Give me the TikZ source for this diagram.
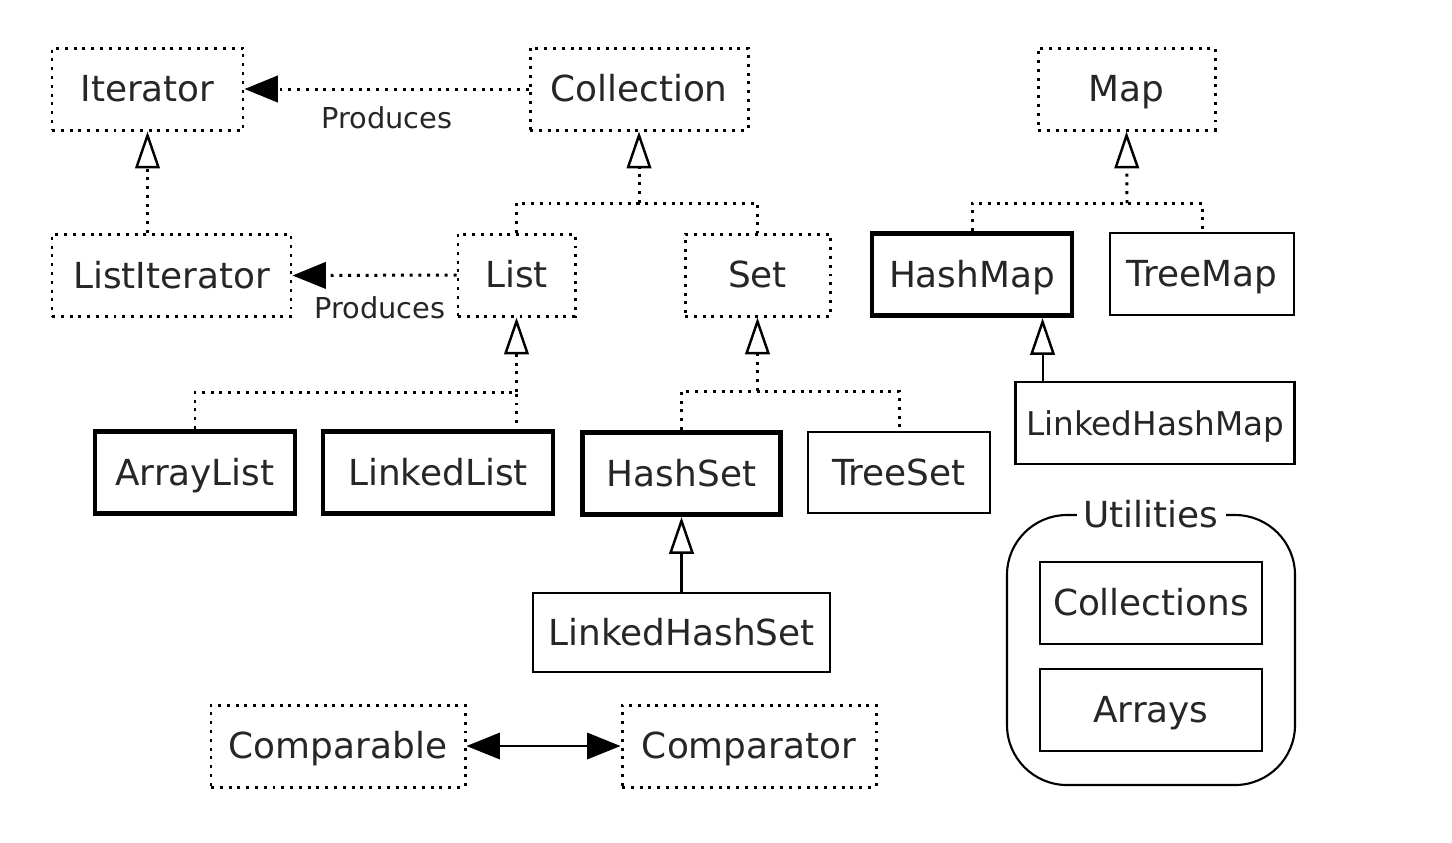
\documentclass[tikz,border=0pt]{standalone}
\usepackage{fontspec}
\setmainfont{DejaVu Sans}
\usetikzlibrary{arrows.meta,positioning,calc}

\begin{document}
\begin{tikzpicture}[
    font=\fontsize{10.2}{12}\selectfont,
    box/.style={rectangle, minimum height=0.82cm, inner sep=0pt, line width=0.6pt, text=black!85, text height=0.74em, text depth=0.02em},
    iface/.style={box, draw, line width=0.85pt, dash pattern=on 0.85pt off 1.65pt},
    impl/.style={box, draw},
    core/.style={box, draw, line width=1.4pt},
    dots/.style={line width=0.85pt, dash pattern=on 0.85pt off 1.65pt},
    inherit/.style={-{Triangle[open, length=10.5pt, width=7pt, line width=0.7pt]}},
    produces/.style={-{Triangle[length=9.5pt, width=7.5pt]}},
    tag/.style={font=\fontsize{8.2}{10}\selectfont, text=black!85}
]
\useasboundingbox (0,0) rectangle (14.52,-8.42);

% interfaces
\node[iface, minimum width=1.91cm] (iter) at (1.475,-0.89) {Iterator};
\node[iface, minimum width=2.18cm] (coll) at (6.39,-0.89) {Collection};
\node[iface, minimum width=1.77cm] (map) at (11.265,-0.89) {Map};
\node[iface, minimum width=2.39cm] (listit) at (1.715,-2.755) {ListIterator};
\node[iface, minimum width=1.17cm] (list) at (5.165,-2.75) {List};
\node[iface, minimum width=1.45cm] (set) at (7.575,-2.75) {Set};
\node[iface, minimum width=2.54cm] (cmpble) at (3.38,-7.46) {Comparable};
\node[iface, minimum width=2.54cm] (cmptor) at (7.49,-7.46) {Comparator};

% implementations
\node[core, minimum width=2.0cm] (hmap) at (9.72,-2.745) {HashMap};
\node[impl, minimum width=1.84cm] (tmap) at (12.02,-2.74) {TreeMap};
\node[impl, minimum width=2.79cm, font=\fontsize{9.3}{11}\selectfont] (lhmap) at (11.55,-4.23) {LinkedHashMap};
\node[core, minimum width=2.0cm] (alist) at (1.95,-4.725) {ArrayList};
\node[core, minimum width=2.3cm] (llist) at (4.38,-4.725) {LinkedList};
\node[core, minimum width=1.98cm] (hset) at (6.815,-4.735) {HashSet};
\node[impl, minimum width=1.82cm, minimum height=0.81cm] (tset) at (8.99,-4.725) {TreeSet};
\node[impl, minimum width=2.97cm, minimum height=0.79cm] (lhset) at (6.815,-6.325) {LinkedHashSet};

% utilities
\node[draw, line width=0.6pt, rounded corners=0.6cm, minimum width=2.88cm, minimum height=2.7cm] (util) at (11.51,-6.5) {};
\node[fill=white, inner sep=2pt, text=black!85] (utiltitle) at (util.north) {Utilities};
\node[impl, minimum width=2.22cm] (colls) at (11.51,-6.03) {Collections};
\node[impl, minimum width=2.22cm] (arrs) at (11.51,-7.10) {Arrays};

% produces
\draw[dots, produces] (coll.west) -- (iter.east);
\draw[dots, produces] (list.west) -- (listit.east);
\node[tag] (prod1) at (3.87,-1.18) {Produces};
\node[tag] (prod2) at (3.80,-3.08) {Produces};

% junctions
\coordinate (cj) at (6.39,-2.03);
\coordinate (mj) at (11.27,-2.03);
\coordinate (lj) at (5.165,-3.92);
\coordinate (sj) at (7.575,-3.91);
\coordinate (lhmfoot) at ($(lhmap.north west)!0.1!(lhmap.north east)$);

\draw[dots] (list.north) |- (cj) -| (set.north);
\draw[dots] (hmap.north) |- (mj) -| (tmap.north);
\draw[dots] (alist.north) |- (lj) -- (lj |- llist.north);
\draw[dots] (hset.north) |- (sj) -| (tset.north);

\foreach \a/\b in {cj/coll, mj/map, lj/list, sj/set}
  \draw[dots, inherit] (\a) -- (\b.south);
\draw[dots, inherit] (listit.north -| iter.south) -- (iter.south);

\draw[line width=0.6pt, inherit] (lhmfoot) -- (lhmfoot |- hmap.south);
\draw[line width=0.6pt, inherit] (lhset.north) -- (hset.south);

\draw[line width=0.6pt, {Triangle[length=9.5pt, width=7.5pt]}-{Triangle[length=9.5pt, width=7.5pt]}] (cmpble.east) -- (cmptor.west);
\end{tikzpicture}
\end{document}
